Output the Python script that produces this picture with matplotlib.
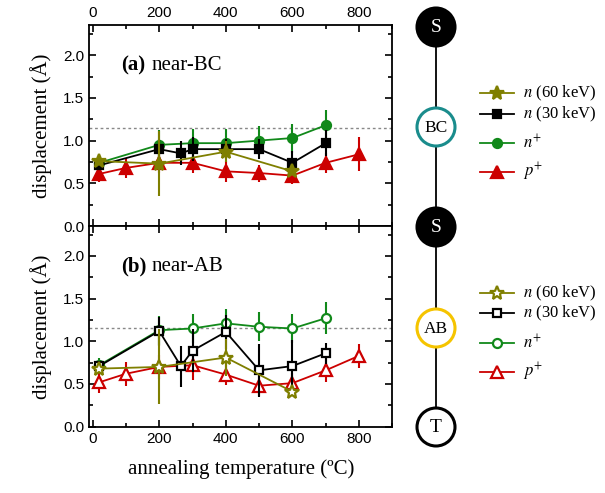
import matplotlib

matplotlib.use("Agg")
import matplotlib.pyplot as plt
from matplotlib.ticker import MultipleLocator
from matplotlib.patches import Circle

# annealing temperatures (degC)
T_n60 = [20, 200, 400, 600]
T_n30 = [20, 200, 265, 300, 400, 500, 600, 700]
T_nplus = [20, 200, 300, 400, 500, 600, 700]
T_pplus = [20, 100, 200, 300, 400, 500, 600, 700, 800]

# (a) near-BC
bc_n60 = [0.76, 0.73, 0.87, 0.64]
bc_n60_err = [0.05, 0.38, 0.12, 0.04]
bc_n30 = [0.71, 0.90, 0.85, 0.90, 0.90, 0.90, 0.74, 0.97]
bc_n30_err = [0.05, 0.12, 0.14, 0.14, 0.12, 0.12, 0.14, 0.15]
bc_nplus = [0.74, 0.95, 0.97, 0.97, 1.00, 1.03, 1.18]
bc_nplus_err = [0.06, 0.17, 0.17, 0.17, 0.17, 0.17, 0.18]
bc_pplus = [0.61, 0.68, 0.74, 0.74, 0.64, 0.62, 0.59, 0.74, 0.84]
bc_pplus_err = [0.10, 0.12, 0.12, 0.12, 0.12, 0.10, 0.10, 0.12, 0.20]

# (b) near-AB
ab_n60 = [0.68, 0.70, 0.81, 0.41]
ab_n60_err = [0.05, 0.44, 0.22, 0.04]
ab_n30 = [0.71, 1.12, 0.71, 0.89, 1.11, 0.66, 0.71, 0.86]
ab_n30_err = [0.06, 0.17, 0.24, 0.25, 0.20, 0.31, 0.30, 0.12]
ab_nplus = [0.72, 1.13, 1.15, 1.21, 1.17, 1.15, 1.27]
ab_nplus_err = [0.08, 0.17, 0.17, 0.17, 0.17, 0.17, 0.19]
ab_pplus = [0.52, 0.62, 0.70, 0.72, 0.61, 0.48, 0.51, 0.66, 0.83]
ab_pplus_err = [0.12, 0.14, 0.14, 0.17, 0.12, 0.12, 0.12, 0.14, 0.14]

ref_line = 1.15

OLIVE = "#7f7f00"
GREEN = "#11891a"
RED = "#cc0000"
BLACK = "#000000"
SERIF = "Liberation Serif"
SANS = "Liberation Sans"

labels = [r"$n$ (60 keV)", r"$n$ (30 keV)", r"$n^{+}$", r"$p^{+}$"]
# marker, colour, size
markers = [("*", OLIVE, 10), ("s", BLACK, 5.5), ("o", GREEN, 6.5), ("^", RED, 8)]


def style_axis(ax, top_labels, bottom_labels):
    ax.set_xlim(-10, 900)
    ax.set_ylim(0, 2.35)
    ax.xaxis.set_major_locator(MultipleLocator(200))
    ax.xaxis.set_minor_locator(MultipleLocator(100))
    ax.yaxis.set_major_locator(MultipleLocator(0.5))
    ax.yaxis.set_minor_locator(MultipleLocator(0.25))
    ax.tick_params(which="both", direction="in", top=True, right=True,
                   labeltop=top_labels, labelbottom=bottom_labels,
                   labelsize=11, width=1.2)
    ax.tick_params(which="major", length=5)
    ax.tick_params(which="minor", length=3)
    for lab in ax.get_xticklabels() + ax.get_yticklabels():
        lab.set_fontfamily(SANS)
    for sp in ax.spines.values():
        sp.set_linewidth(1.3)
    ax.axhline(ref_line, color="#888888", ls=(0, (2, 2)), lw=1.0, zorder=0)
    ax.set_ylabel("displacement (Å)", fontfamily=SERIF, fontsize=15, labelpad=8)


def draw_panel(ax, series, filled):
    # series order: n60, n30, n+, p+ ; drawn with p+ at the bottom
    temps = [T_n60, T_n30, T_nplus, T_pplus]
    for i in [3, 2, 1, 0]:
        vals, errs = series[i]
        mk, col, ms = markers[i]
        ax.errorbar(temps[i], vals, yerr=errs, color=col, marker=mk, ms=ms,
                    mfc=col if filled else "white", mec=col, mew=1.6,
                    capsize=0, elinewidth=1.5, lw=1.3, zorder=6 - i)


fig = plt.figure(figsize=(6.05, 4.93), dpi=100)
W, H = 605.0, 493.0
ax_a = fig.add_axes([89.3 / W, (H - 226) / H, 303 / W, 200.7 / H])
ax_b = fig.add_axes([89.3 / W, (H - 426.7) / H, 303 / W, 200.7 / H])

draw_panel(ax_a, [(bc_n60, bc_n60_err), (bc_n30, bc_n30_err),
                  (bc_nplus, bc_nplus_err), (bc_pplus, bc_pplus_err)], True)
draw_panel(ax_b, [(ab_n60, ab_n60_err), (ab_n30, ab_n30_err),
                  (ab_nplus, ab_nplus_err), (ab_pplus, ab_pplus_err)], False)
style_axis(ax_a, True, False)
style_axis(ax_b, False, True)
ax_b.set_xlabel("annealing temperature (ºC)", fontfamily=SERIF, fontsize=15, labelpad=10)

for ax, tag, name in [(ax_a, "(a)", "near-BC"), (ax_b, "(b)", "near-AB")]:
    ax.text(0.105, 0.80, tag, transform=ax.transAxes, fontfamily=SERIF,
            fontsize=15, fontweight="bold", va="center")
    ax.text(0.205, 0.80, name, transform=ax.transAxes, fontfamily=SERIF,
            fontsize=15, va="center")

# schematic chain and legends, in pixel coordinates
side = fig.add_axes([0, 0, 1, 1], facecolor="none")
side.set_xlim(0, W)
side.set_ylim(H, 0)
side.axis("off")

cx = 436
r = 19
side.plot([cx, cx], [27, 427], color="black", lw=1.3, zorder=1)
sites = [(27, "S", "black", "black", "white"),
         (127, "BC", "white", "#1a8c8c", "black"),
         (227, "S", "black", "black", "white"),
         (328, "AB", "white", "#f5c400", "black"),
         (427, "T", "white", "black", "black")]
for cy, txt, face, edge, tc in sites:
    side.add_patch(Circle((cx, cy), r, facecolor=face, edgecolor=edge, lw=2.2, zorder=2))
    side.text(cx, cy + 1, txt, ha="center", va="center", color=tc,
              fontfamily=SERIF, fontsize=14 if len(txt) == 1 else 12.5, zorder=3)

for rows, filled in [([93, 114, 143, 172], True), ([293, 313, 343, 372], False)]:
    for y, (mk, col, ms), lab in zip(rows, markers, labels):
        side.plot([480, 514], [y, y], color=col, lw=1.3)
        side.plot([497], [y], marker=mk, ms=ms, color=col,
                  mfc=col if filled else "white", mec=col, mew=1.6)
        side.text(523, y, lab, fontfamily=SERIF, fontsize=12, va="center",
                  math_fontfamily="stix")

fig.savefig("out.png", dpi=100)
